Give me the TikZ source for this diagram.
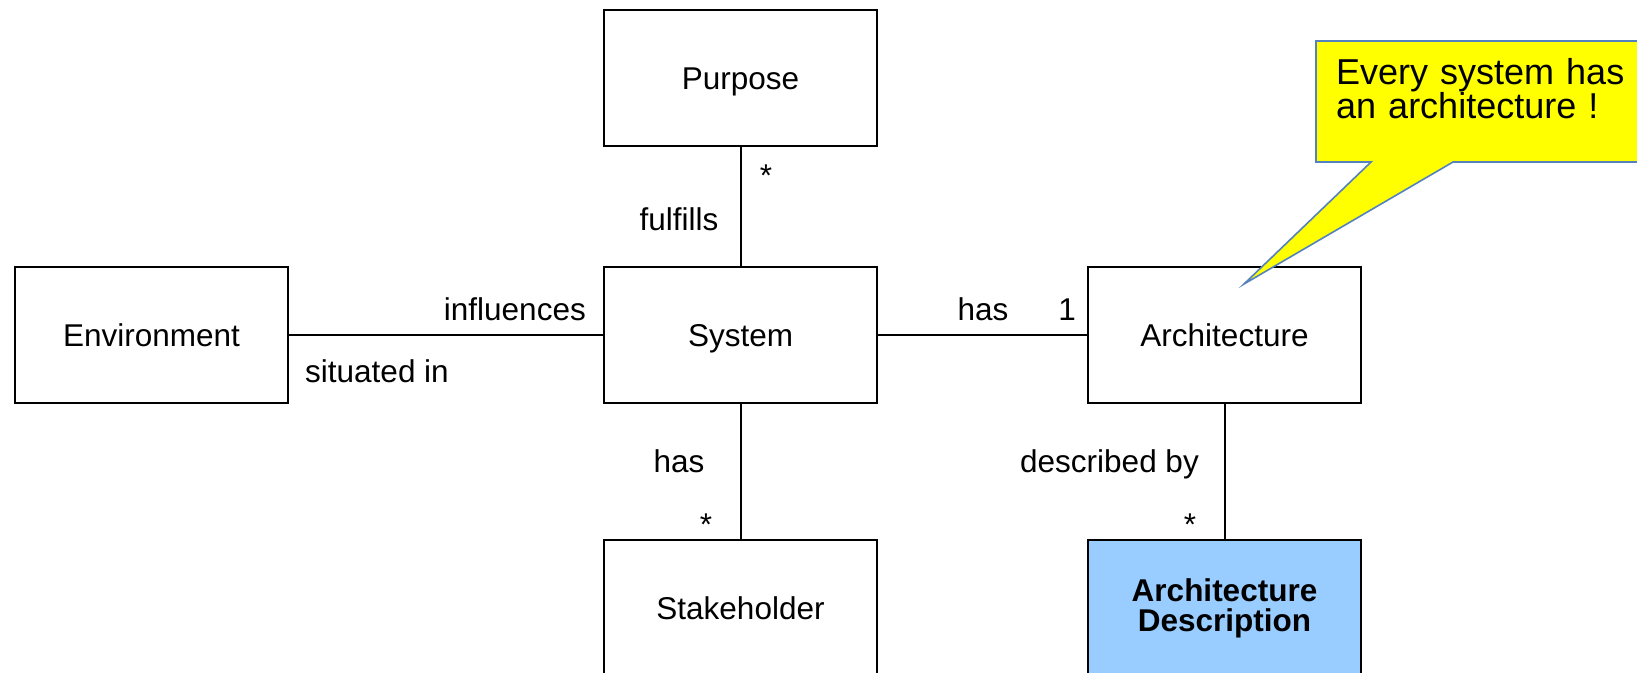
\documentclass[tikz,border=0pt]{standalone}
\usepackage{fontspec}
\setmainfont{Liberation Sans}
\definecolor{adblue}{RGB}{153,204,255}
\definecolor{callborder}{RGB}{84,130,190}
\definecolor{callfill}{RGB}{255,255,0}
\begin{document}
\begin{tikzpicture}[x=1pt,y=-1pt,
  box/.style={draw, line width=2pt, minimum width=273pt, minimum height=136pt, inner sep=0pt,
    font=\fontsize{31.5}{30}\selectfont, text height=22pt, text depth=0pt},
  adbox/.style={draw, line width=2pt, fill=adblue, minimum width=273pt, minimum height=136pt, inner sep=0pt,
    font=\bfseries\fontsize{31.5}{30}\selectfont, align=center},
  lbl/.style={inner sep=0pt, font=\fontsize{31.5}{30}\selectfont},
  conn/.style={line width=2pt},
  callout/.style={fill=callfill, draw=callborder, line width=1.6pt, line join=miter}]
\clip (0,0) rectangle (1637,672);
\fill[white] (0,0) rectangle (1637,672);
% boxes
\node[box] (purpose) at (740.5,78) {Purpose};
\node[box] (env) at (151.5,335) {Environment};
\node[box] (sys) at (740.5,335) {System};
\node[box] (arch) at (1224.5,335) {Architecture};
\node[box] (stake) at (740.5,608) {Stakeholder};
\node[adbox] (ad) at (1224.5,608) {Architecture\\Description};
% connectors
\draw[conn] (purpose.south) -- (sys.north);
\draw[conn] (env.east) -- (sys.west);
\draw[conn] (sys.east) -- (arch.west);
\draw[conn] (sys.south) -- (stake.north);
\draw[conn] (arch.south) -- (ad.north);
% labels
\node[lbl, anchor=base] (m1) at (766,186) {*};
\node[lbl, anchor=base] (fulf) at (679,230) {fulfills};
\node[lbl, anchor=base east] (infl) at (586,320) {influences};
\node[lbl, anchor=base west] (sit) at (305,382) {situated in};
\node[lbl, anchor=base] (has1) at (983,320) {has};
\node[lbl, anchor=base] (one) at (1067,320) {1};
\node[lbl, anchor=base] (has2) at (679,472) {has};
\node[lbl, anchor=base] (m2) at (706,535) {*};
\node[lbl, anchor=base east] (desc) at (1199,472) {described by};
\node[lbl, anchor=base] (m3) at (1190,535) {*};
% callout
\draw[callout] (1316,41) -- (1700,41) -- (1700,162) -- (1453,162) -- (1244,284) -- (1371,162) -- (1316,162) -- cycle;
\node[inner sep=0pt, anchor=base west, text width=330pt, align=left,
  font=\fontsize{36}{33}\selectfont] (note) at (1336,84) {Every system has\\an architecture !};
\end{tikzpicture}
\end{document}
